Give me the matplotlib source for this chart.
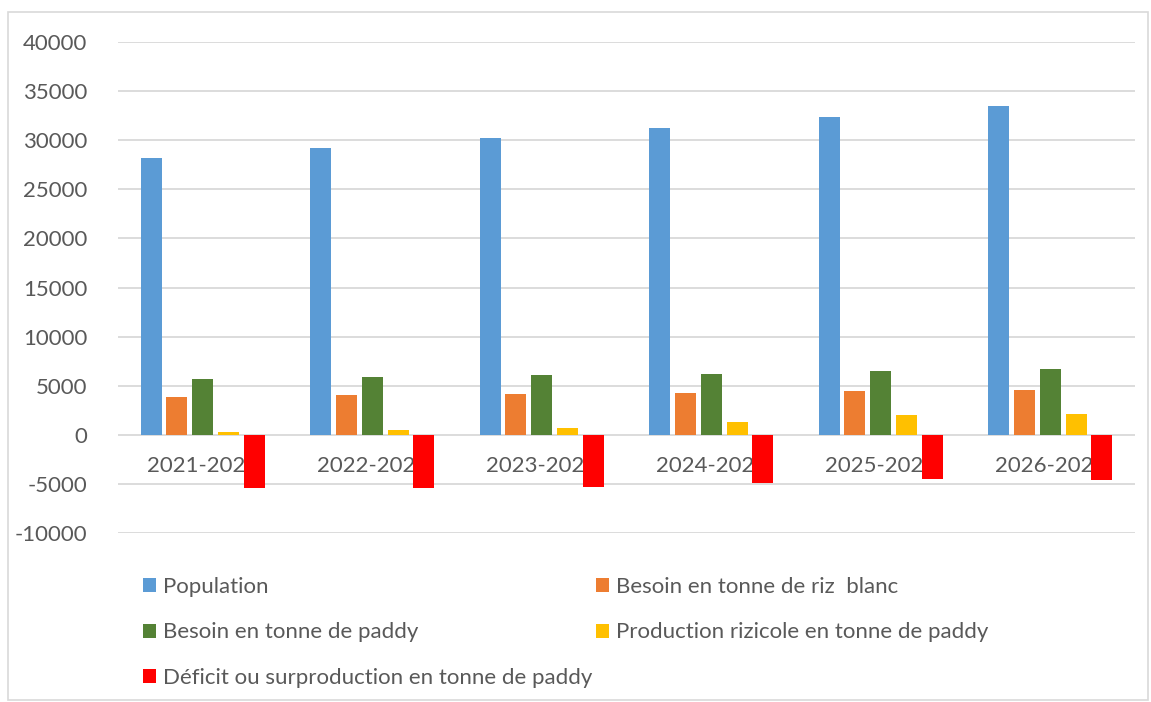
import matplotlib.pyplot as plt
import numpy as np
from matplotlib.patches import Rectangle

categories = ['2021-2022', '2022-2023', '2023-2024', '2024-2025', '2025-2026', '2026-2027']
series_names = ['Population',
                'Besoin en tonne de riz  blanc',
                'Besoin en tonne de paddy',
                'Production rizicole en tonne de paddy',
                'Déficit ou surproduction en tonne de paddy']
population = [28200, 29200, 30230, 31250, 32370, 33490]
besoin_riz = [3870, 4040, 4170, 4270, 4450, 4610]
besoin_paddy = [5670, 5870, 6040, 6240, 6480, 6720]
production = [275, 440, 710, 1320, 1970, 2140]
deficit = [-5395, -5430, -5330, -4920, -4510, -4580]
colors = ['#5B9BD5', '#ED7D31', '#548235', '#FFC000', '#FF0000']

plt.rcParams['font.family'] = ['Lato', 'DejaVu Sans']
plt.rcParams['axes.unicode_minus'] = False
text_color = '#595959'

fig = plt.figure(figsize=(11.51, 7.02), dpi=100)
W, H = 1151, 702
ax = fig.add_axes([118 / W, (H - 533) / H, (1135 - 118) / W, (533 - 42) / H])

# outer chart frame
fig.patches.append(Rectangle((8 / W, 2 / H), 1140 / W, 688 / H, transform=fig.transFigure,
                             fill=False, edgecolor='#d9d9d9', linewidth=1.2))

x = np.arange(len(categories))
pitch = 0.152
width = 0.124
all_series = [population, besoin_riz, besoin_paddy, production, deficit]
handles = []
for i, vals in enumerate(all_series):
    b = ax.bar(x + (i - 2) * pitch, vals, width, color=colors[i], label=series_names[i], zorder=3)
    handles.append(b)

ax.set_xlim(-0.5, len(categories) - 0.5)
ax.set_ylim(-10000, 40000)
ax.set_yticks(np.arange(-10000, 40001, 5000))
ax.tick_params(axis='y', length=0, labelsize=16, labelcolor=text_color, pad=22)
ax.set_xticks([])
ax.grid(axis='y', color='#d9d9d9', linewidth=1.3, zorder=0)
for s in ax.spines.values():
    s.set_visible(False)

# category labels just below the zero line (behind the bars)
for xi, c in zip(x, categories):
    ax.text(xi, -3150, c, ha='center', va='center', fontsize=16, color=text_color, zorder=2)

order = [0, 2, 4, 1, 3]
fig.legend([handles[k] for k in order], [series_names[k] for k in order],
           loc='upper left', bbox_to_anchor=(134 / W, (H - 568) / H), ncol=2,
           frameon=False, fontsize=16, labelcolor=text_color,
           handlelength=0.6, handleheight=0.6, handletextpad=0.3,
           columnspacing=0.15, labelspacing=1.15, borderaxespad=0)

fig.savefig('out.png', dpi=100)
